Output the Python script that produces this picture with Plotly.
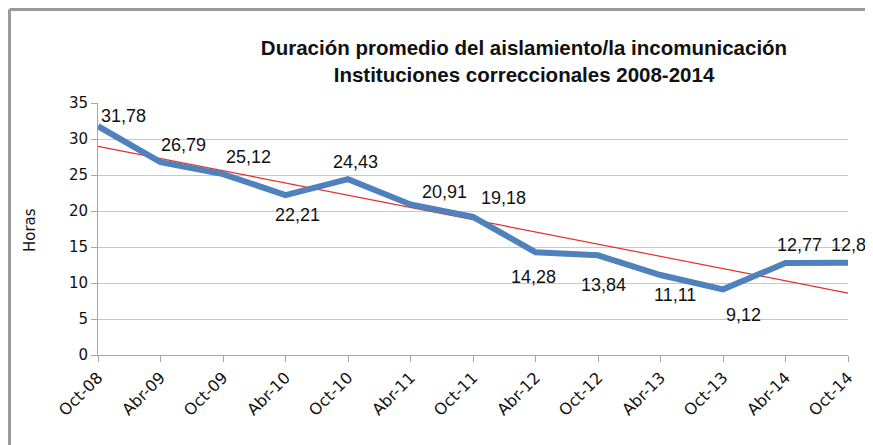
import numpy as np
import plotly.graph_objects as go

categories = ["Oct-08", "Abr-09", "Oct-09", "Abr-10", "Oct-10", "Abr-11", "Oct-11",
              "Abr-12", "Oct-12", "Abr-13", "Oct-13", "Abr-14", "Oct-14"]
horas = [31.78, 26.79, 25.12, 22.21, 24.43, 20.91, 19.18,
         14.28, 13.84, 11.11, 9.12, 12.77, 12.8]
etiquetas = ["31,78", "26,79", "25,12", "22,21", "24,43", "20,91", "19,18",
             "14,28", "13,84", "11,11", "9,12", "12,77", "12,8"]
y_ticks = [0, 5, 10, 15, 20, 25, 30, 35]

# label offsets (pixels) relative to each point
label_dx = [25, 23, 25, 12, 7, 34, 30, -2, 5, 14, 20, 14, 0]
label_dy = [-10, -17, -17, 20, -17, -12, -19, 25, 30, 20, 26, -18, -18]

idx = np.arange(len(horas))
slope, intercept = np.polyfit(idx, horas, 1)
trend = slope * idx + intercept

FONT = "Liberation Sans"
TICKFONT = "DejaVu Sans"

W, H = 865, 437
L, R, T, B = 90, 25, 95, 90
pw, ph = W - L - R, H - T - B

fig = go.Figure()
fig.add_trace(go.Scatter(x=categories, y=trend, mode="lines",
                         line=dict(color="#e0302c", width=1.2), hoverinfo="skip",
                         showlegend=False))
fig.add_trace(go.Scatter(x=categories, y=horas, mode="lines",
                         line=dict(color="#4f81bd", width=6), showlegend=False))

for c, v, t, dx, dy in zip(categories, horas, etiquetas, label_dx, label_dy):
    fig.add_annotation(x=c, y=v, text=t, showarrow=False, xshift=dx, yshift=-dy,
                       font=dict(family=FONT, size=18, color="#111111"))

# y axis title
fig.add_annotation(xref="paper", yref="paper", x=(22 - L) / pw, y=(ph + T - 222) / ph,
                   xanchor="center", yanchor="middle",
                   text="Horas", textangle=-90, showarrow=False,
                   font=dict(family=TICKFONT, size=15, color="#111111"))

# outer frame (top and left edges visible)
fx = (1.5 - L) / pw
fy = (ph + T - 1.5) / ph
frame = dict(color="#9a9a9a", width=3)
fig.add_shape(type="line", xref="paper", yref="paper", x0=fx, x1=(W + 10 - L) / pw,
              y0=fy, y1=fy, line=frame)
fig.add_shape(type="line", xref="paper", yref="paper", x0=fx, x1=fx,
              y0=fy, y1=-(B + 10) / ph, line=frame)

fig.update_layout(
    width=W, height=H,
    margin=dict(l=L, r=R, t=T, b=B),
    paper_bgcolor="white", plot_bgcolor="white",
    title=dict(text="Duración promedio del aislamiento/la incomunicación<br>Instituciones correccionales 2008-2014",
               x=516 / W, xanchor="center", y=1 - 47 / H, yanchor="middle",
               font=dict(family=FONT, size=20.5, color="#111111", weight="bold")),
    font=dict(family=FONT, color="#111111"),
)
fig.update_xaxes(type="category", range=[0, len(categories) - 1],
                 showgrid=False, showline=True, linecolor="#a6a6a6", linewidth=1,
                 ticks="outside", ticklen=6, tickcolor="#a6a6a6",
                 tickangle=-45, tickfont=dict(family=TICKFONT, size=16, color="#111111"))
fig.update_yaxes(range=[0, 35], tickvals=y_ticks, showgrid=True, gridcolor="#b7cbe6",
                 gridwidth=1, showline=True, linecolor="#a6a6a6", linewidth=1,
                 ticks="outside", ticklen=6, tickcolor="#a6a6a6", zeroline=False,
                 tickfont=dict(family=TICKFONT, size=15, color="#111111"))

fig.write_html("out.html")
